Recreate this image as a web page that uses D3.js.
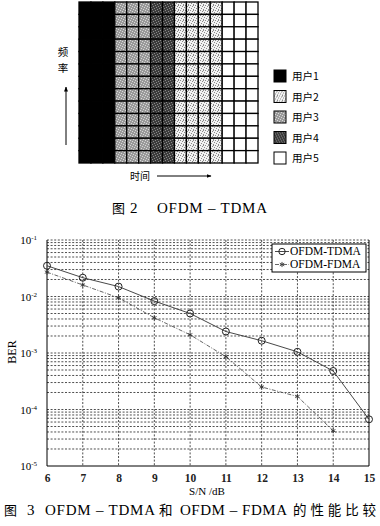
<!DOCTYPE html>
<html>
<head>
<meta charset="utf-8">
<script src="https://cdn.jsdelivr.net/npm/d3@7"></script>
<style>
  body { margin: 0; background: #fff; }
  svg { display: block; }
  .cn { font-family: "Noto Sans CJK SC", sans-serif; }
  .rm { font-family: "Liberation Serif", "DejaVu Serif", serif; }
</style>
</head>
<body>
<svg id="chart" width="380" height="526"></svg>
<script>
// figure 2 : time slots
var users = ["用户1", "用户2", "用户3", "用户4", "用户5"];
var slotUser = [0, 0, 0, 2, 2, 2, 3, 3, 1, 1, 1, 1, 4, 4, 4]; // which user owns each time slot
var nRows = 13;

// figure 3 : BER curves
var snrTDMA = [6, 7, 8, 9, 10, 11, 12, 13, 14, 15];
var berTDMA = [0.035, 0.0215, 0.015, 0.0083, 0.005, 0.0024, 0.00165, 0.00105, 0.00048, 0.000067];
var snrFDMA = [6, 7, 8, 9, 10, 11, 12, 13, 14];
var berFDMA = [0.027, 0.016, 0.0095, 0.0042, 0.0021, 0.00086, 0.00025, 0.00017, 0.000042];
var xTicks = [6, 7, 8, 9, 10, 11, 12, 13, 14, 15];
var yTicks = [1e-5, 1e-4, 1e-3, 1e-2, 1e-1];
var seriesNames = ["OFDM-TDMA", "OFDM-FDMA"];

var svg = d3.select("#chart");
var defs = svg.append("defs");

// speckle textures for users 2,3,4
function speckle(id, bg, fg, dots) {
  var p = defs.append("pattern").attr("id", id)
      .attr("patternUnits", "userSpaceOnUse").attr("width", 5).attr("height", 5);
  p.append("rect").attr("width", 5).attr("height", 5).attr("fill", bg);
  dots.forEach(function(d) {
    p.append("rect").attr("x", d[0]).attr("y", d[1]).attr("width", 1).attr("height", 1).attr("fill", fg);
  });
}
speckle("u2", "#f2f2f2", "#8a8a8a", [[0,0],[2,1],[4,2],[1,3],[3,4],[3,0]]);
speckle("u3", "#9a9a9a", "#d8d8d8", [[0,0],[2,1],[4,2],[1,3],[3,4]]);
speckle("u4", "#3c3c3c", "#8a8a8a", [[0,0],[3,1],[1,2],[4,3],[2,4]]);
var fills = ["#000", "url(#u2)", "url(#u3)", "url(#u4)", "#fff"];

// ---------- figure 2 ----------
var gx = d3.scaleBand().domain(d3.range(slotUser.length)).range([79, 258]);
var gy = d3.scaleBand().domain(d3.range(nRows)).range([2, 163]);

var cells = [];
slotUser.forEach(function(u, c) {
  d3.range(nRows).forEach(function(r) { cells.push({c: c, r: r, u: u}); });
});

var g2 = svg.append("g");
g2.selectAll("rect.cell").data(cells).enter().append("rect")
    .attr("class", "cell")
    .attr("x", function(d) { return gx(d.c); })
    .attr("y", function(d) { return gy(d.r); })
    .attr("width", gx.bandwidth())
    .attr("height", gy.bandwidth())
    .attr("fill", function(d) { return fills[d.u]; })
    .attr("stroke", "#000")
    .attr("stroke-width", 1.3);

// legend
var ly = d3.scalePoint().domain(users).range([76, 158]);
var leg2 = g2.selectAll("g.leg").data(users).enter().append("g").attr("class", "leg")
    .attr("transform", function(d) { return "translate(274," + (ly(d) - 6) + ")"; });
leg2.append("rect").attr("width", 12).attr("height", 12)
    .attr("fill", function(d, i) { return fills[i]; })
    .attr("stroke", "#000").attr("stroke-width", 1);
leg2.append("text").attr("class", "cn").attr("x", 18).attr("y", 10)
    .attr("font-size", 10.5).text(function(d) { return d; });

defs.append("marker").attr("id", "arr").attr("viewBox", "0 0 10 10")
    .attr("refX", 9).attr("refY", 5).attr("markerWidth", 5).attr("markerHeight", 5)
    .attr("orient", "auto")
  .append("path").attr("d", "M0,1L10,5L0,9z").attr("fill", "#000");

g2.append("text").attr("class", "cn").attr("x", 63).attr("y", 56)
    .attr("text-anchor", "middle").attr("font-size", 10.5).text("频");
g2.append("text").attr("class", "cn").attr("x", 63).attr("y", 72)
    .attr("text-anchor", "middle").attr("font-size", 10.5).text("率");
g2.append("line").attr("x1", 66).attr("y1", 145).attr("x2", 66).attr("y2", 87)
    .attr("stroke", "#000").attr("stroke-width", 1).attr("marker-end", "url(#arr)");
g2.append("text").attr("class", "cn").attr("x", 130).attr("y", 180)
    .attr("font-size", 10).text("时间");
g2.append("line").attr("x1", 157).attr("y1", 176).attr("x2", 211).attr("y2", 176)
    .attr("stroke", "#000").attr("stroke-width", 1).attr("marker-end", "url(#arr)");

var cap2 = svg.append("text").attr("y", 213).attr("font-size", 15);
cap2.append("tspan").attr("class", "cn").attr("font-size", 13).attr("x", 112).text("图");
cap2.append("tspan").attr("class", "rm").attr("x", 130).text("2");
cap2.append("tspan").attr("class", "rm").attr("x", 157)
    .attr("textLength", 110).attr("lengthAdjust", "spacing").text("OFDM – TDMA");

// ---------- figure 3 ----------
var x = d3.scaleLinear().domain([6, 15]).range([47, 369]);
var y = d3.scaleLog().domain([1e-5, 1e-1]).range([466, 240]);

var g3 = svg.append("g");
var minor = [];
[1e-5, 1e-4, 1e-3, 1e-2].forEach(function(dec) {
  d3.range(1, 10).forEach(function(k) { minor.push(dec * k); });
});
minor.push(1e-1);

g3.selectAll("line.hg").data(minor.slice(1)).enter().append("line")
    .attr("class", "hg")
    .attr("x1", x(6)).attr("x2", x(15))
    .attr("y1", function(d) { return y(d); }).attr("y2", function(d) { return y(d); })
    .attr("stroke", "#222").attr("stroke-width", 0.8).attr("stroke-dasharray", "2,1.6");
g3.selectAll("line.vg").data(xTicks.slice(1, -1)).enter().append("line")
    .attr("class", "vg")
    .attr("x1", function(d) { return x(d); }).attr("x2", function(d) { return x(d); })
    .attr("y1", y(1e-1)).attr("y2", y(1e-5))
    .attr("stroke", "#222").attr("stroke-width", 0.8).attr("stroke-dasharray", "2,1.6");

// frame
g3.append("path")
    .attr("d", "M" + x(6) + "," + y(1e-1) + "V" + y(1e-5) + "H" + x(15) + "V" + y(1e-1))
    .attr("fill", "none").attr("stroke", "#000").attr("stroke-width", 1);

// axes
var xAxis = g3.append("g").attr("transform", "translate(0," + y(1e-5) + ")")
    .call(d3.axisBottom(x).tickValues(xTicks).tickSize(0).tickPadding(8));
xAxis.select(".domain").remove();
xAxis.selectAll("text").attr("class", "rm").attr("font-size", 11.5)
    .attr("font-weight", "bold").attr("fill", "#222");

var yAxis = g3.append("g").attr("transform", "translate(" + x(6) + ",0)")
    .call(d3.axisLeft(y).tickValues(yTicks).tickSize(0).tickPadding(10).tickFormat(""));
yAxis.select(".domain").remove();
yAxis.selectAll(".tick").append("text")
    .attr("class", "rm").attr("x", -10).attr("dy", "0.35em").attr("fill", "#000")
    .attr("text-anchor", "end").attr("font-size", 11)
    .each(function(d) {
      var t = d3.select(this);
      t.append("tspan").text("10");
      t.append("tspan").attr("font-size", 7).attr("dy", "-0.6em")
          .text("-" + Math.round(-Math.log10(d)));
    });

g3.append("text").attr("class", "rm").attr("font-size", 12)
    .attr("transform", "translate(16,352) rotate(-90)")
    .attr("text-anchor", "middle").text("BER");
g3.append("text").attr("class", "rm").attr("font-size", 11)
    .attr("x", 207).attr("y", 495).attr("text-anchor", "middle").text("S/N /dB");

// curves
var line = d3.line().x(function(d) { return x(d[0]); }).y(function(d) { return y(d[1]); });
var tdma = d3.zip(snrTDMA, berTDMA);
var fdma = d3.zip(snrFDMA, berFDMA);
var star = d3.symbolAsterisk || d3.symbolCross;

g3.append("path").datum(tdma).attr("d", line)
    .attr("fill", "none").attr("stroke", "#333").attr("stroke-width", 0.9);
g3.append("path").datum(fdma).attr("d", line)
    .attr("fill", "none").attr("stroke", "#555").attr("stroke-width", 0.9)
    .attr("stroke-dasharray", "4,1.5,1,1.5");
g3.selectAll("circle.td").data(tdma).enter().append("circle")
    .attr("class", "td")
    .attr("cx", function(d) { return x(d[0]); }).attr("cy", function(d) { return y(d[1]); })
    .attr("r", 3.5).attr("fill", "none").attr("stroke", "#222").attr("stroke-width", 1);
g3.selectAll("path.fd").data(fdma).enter().append("path")
    .attr("class", "fd")
    .attr("transform", function(d) { return "translate(" + x(d[0]) + "," + y(d[1]) + ")"; })
    .attr("d", d3.symbol().type(star).size(18))
    .attr("fill", "none").attr("stroke", "#333").attr("stroke-width", 0.9);

// legend
var lg = g3.append("g").attr("transform", "translate(272,244)");
lg.append("rect").attr("width", 94).attr("height", 28)
    .attr("fill", "#fff").attr("stroke", "#000").attr("stroke-width", 1);
var lyy = d3.scalePoint().domain(seriesNames).range([7.5, 20.5]);
lg.append("line").attr("x1", 3).attr("x2", 17)
    .attr("y1", lyy(seriesNames[0])).attr("y2", lyy(seriesNames[0]))
    .attr("stroke", "#333").attr("stroke-width", 0.9);
lg.append("circle").attr("cx", 10).attr("cy", lyy(seriesNames[0])).attr("r", 3.2)
    .attr("fill", "none").attr("stroke", "#222");
lg.append("line").attr("x1", 3).attr("x2", 17)
    .attr("y1", lyy(seriesNames[1])).attr("y2", lyy(seriesNames[1]))
    .attr("stroke", "#555").attr("stroke-width", 0.9).attr("stroke-dasharray", "4,1.5,1,1.5");
lg.append("path").attr("transform", "translate(10," + lyy(seriesNames[1]) + ")")
    .attr("d", d3.symbol().type(star).size(18))
    .attr("fill", "none").attr("stroke", "#333").attr("stroke-width", 0.9);
lg.selectAll("text").data(seriesNames).enter().append("text")
    .attr("class", "rm").attr("x", 18).attr("y", function(d) { return lyy(d); })
    .attr("dy", "0.33em").attr("font-size", 11.5).text(function(d) { return d; });

var cap3 = svg.append("text").attr("y", 515).attr("font-size", 15);
cap3.append("tspan").attr("class", "cn").attr("font-size", 13).attr("x", 4).text("图");
cap3.append("tspan").attr("class", "rm").attr("x", 27).text("3");
cap3.append("tspan").attr("class", "rm").attr("x", 45)
    .attr("textLength", 110).attr("lengthAdjust", "spacing").text("OFDM – TDMA");
cap3.append("tspan").attr("class", "cn").attr("font-size", 13.5).attr("x", 159).text("和");
cap3.append("tspan").attr("class", "rm").attr("x", 180)
    .attr("textLength", 107).attr("lengthAdjust", "spacing").text("OFDM – FDMA");
cap3.append("tspan").attr("class", "cn").attr("font-size", 13.5).attr("x", 293)
    .attr("textLength", 83).attr("lengthAdjust", "spacing").text("的性能比较");
</script>
</body>
</html>
